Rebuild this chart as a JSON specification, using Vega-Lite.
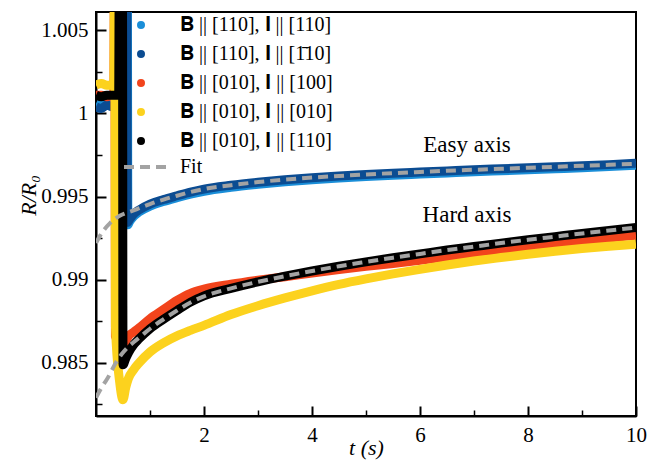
{
  "$schema": "https://vega.github.io/schema/vega-lite/v6.json",
  "width": 540,
  "height": 404,
  "autosize": {"type": "none"},
  "padding": {"left": 96, "top": 12, "right": 11, "bottom": 48},
  "background": "white",
  "config": {
    "view": {"stroke": "black", "strokeWidth": 2},
    "font": "Liberation Serif",
    "axis": {"grid": false, "domainColor": "black", "domainWidth": 2, "tickColor": "black", "labelColor": "black", "titleColor": "black", "labelFont": "Liberation Serif", "titleFont": "Liberation Serif"},
    "legend": {"labelFont": "Liberation Serif, DejaVu Serif", "labelColor": "black", "padding": 0, "offset": 0}
  },
  "datasets": {
    "series": [
      {"s":"A","t":0.0,"r":1.0006},{"s":"A","t":0.1,"r":1.0005},{"s":"A","t":0.2,"r":1.0006},{"s":"A","t":0.3,"r":1.0005},{"s":"A","t":0.4,"r":1.0006},{"s":"A","t":0.55,"r":1.0005},{"s":"A","t":0.56,"r":1.0075},{"s":"A","t":0.58,"r":1.0075},{"s":"A","t":0.59,"r":0.9933},{"s":"A","t":0.62,"r":0.99348},{"s":"A","t":0.7,"r":0.99382},{"s":"A","t":0.8,"r":0.99408},{"s":"A","t":1.0,"r":0.99442},{"s":"A","t":1.25,"r":0.9947},{"s":"A","t":1.5,"r":0.99493},{"s":"A","t":1.75,"r":0.99514},{"s":"A","t":2.0,"r":0.99532},{"s":"A","t":2.5,"r":0.99556},{"s":"A","t":3.0,"r":0.99574},{"s":"A","t":3.5,"r":0.99589},{"s":"A","t":4.0,"r":0.99601},{"s":"A","t":4.5,"r":0.99611},{"s":"A","t":5.0,"r":0.9962},{"s":"A","t":5.5,"r":0.99628},{"s":"A","t":6.0,"r":0.99635},{"s":"A","t":6.5,"r":0.99642},{"s":"A","t":7.0,"r":0.99649},{"s":"A","t":7.5,"r":0.99655},{"s":"A","t":8.0,"r":0.99661},{"s":"A","t":8.5,"r":0.99667},{"s":"A","t":9.0,"r":0.99673},{"s":"A","t":9.5,"r":0.9968},{"s":"A","t":10.0,"r":0.99688},
      {"s":"B","t":0.0,"r":1.0004},{"s":"B","t":0.1,"r":1.0003},{"s":"B","t":0.2,"r":1.0005},{"s":"B","t":0.3,"r":1.0004},{"s":"B","t":0.4,"r":1.0004},{"s":"B","t":0.54,"r":1.0004},{"s":"B","t":0.55,"r":1.0075},{"s":"B","t":0.57,"r":1.0075},{"s":"B","t":0.58,"r":0.99345},{"s":"B","t":0.62,"r":0.99362},{"s":"B","t":0.7,"r":0.99395},{"s":"B","t":0.8,"r":0.9942},{"s":"B","t":1.0,"r":0.99455},{"s":"B","t":1.25,"r":0.99482},{"s":"B","t":1.5,"r":0.99505},{"s":"B","t":1.75,"r":0.99527},{"s":"B","t":2.0,"r":0.99545},{"s":"B","t":2.5,"r":0.99568},{"s":"B","t":3.0,"r":0.99586},{"s":"B","t":3.5,"r":0.99601},{"s":"B","t":4.0,"r":0.99613},{"s":"B","t":4.5,"r":0.99623},{"s":"B","t":5.0,"r":0.99632},{"s":"B","t":5.5,"r":0.9964},{"s":"B","t":6.0,"r":0.99647},{"s":"B","t":6.5,"r":0.99654},{"s":"B","t":7.0,"r":0.99661},{"s":"B","t":7.5,"r":0.99667},{"s":"B","t":8.0,"r":0.99673},{"s":"B","t":8.5,"r":0.99679},{"s":"B","t":9.0,"r":0.99685},{"s":"B","t":9.5,"r":0.99692},{"s":"B","t":10.0,"r":0.997},
      {"s":"C","t":0.0,"r":1.0011},{"s":"C","t":0.1,"r":1.0011},{"s":"C","t":0.2,"r":1.001},{"s":"C","t":0.3,"r":1.0011},{"s":"C","t":0.33,"r":1.0011},{"s":"C","t":0.34,"r":1.0075},{"s":"C","t":0.35,"r":1.0075},{"s":"C","t":0.36,"r":0.9866},{"s":"C","t":0.43,"r":0.9862},{"s":"C","t":0.5,"r":0.9861},{"s":"C","t":0.55,"r":0.9863},{"s":"C","t":0.6,"r":0.9866},{"s":"C","t":0.7,"r":0.98685},{"s":"C","t":0.8,"r":0.9871},{"s":"C","t":1.0,"r":0.98765},{"s":"C","t":1.25,"r":0.9882},{"s":"C","t":1.5,"r":0.98875},{"s":"C","t":1.75,"r":0.98918},{"s":"C","t":2.0,"r":0.98943},{"s":"C","t":2.5,"r":0.98973},{"s":"C","t":3.0,"r":0.98997},{"s":"C","t":3.5,"r":0.99018},{"s":"C","t":4.0,"r":0.9904},{"s":"C","t":4.5,"r":0.99061},{"s":"C","t":5.0,"r":0.9908},{"s":"C","t":5.5,"r":0.99097},{"s":"C","t":6.0,"r":0.99117},{"s":"C","t":6.5,"r":0.99138},{"s":"C","t":7.0,"r":0.99158},{"s":"C","t":7.5,"r":0.99177},{"s":"C","t":8.0,"r":0.99196},{"s":"C","t":8.5,"r":0.99214},{"s":"C","t":9.0,"r":0.99232},{"s":"C","t":9.5,"r":0.9925},{"s":"C","t":10.0,"r":0.99268},
      {"s":"D","t":0.0,"r":1.0017},{"s":"D","t":0.1,"r":1.0018},{"s":"D","t":0.2,"r":1.0017},{"s":"D","t":0.3,"r":1.0017},{"s":"D","t":0.33,"r":1.0017},{"s":"D","t":0.34,"r":1.0075},{"s":"D","t":0.35,"r":1.0075},{"s":"D","t":0.36,"r":0.9872},{"s":"D","t":0.44,"r":0.9838},{"s":"D","t":0.5,"r":0.98278},{"s":"D","t":0.55,"r":0.9835},{"s":"D","t":0.6,"r":0.98405},{"s":"D","t":0.7,"r":0.9846},{"s":"D","t":0.8,"r":0.985},{"s":"D","t":1.0,"r":0.98565},{"s":"D","t":1.25,"r":0.9862},{"s":"D","t":1.5,"r":0.98662},{"s":"D","t":1.75,"r":0.98695},{"s":"D","t":2.0,"r":0.98725},{"s":"D","t":2.5,"r":0.9879},{"s":"D","t":3.0,"r":0.98843},{"s":"D","t":3.5,"r":0.9889},{"s":"D","t":4.0,"r":0.98933},{"s":"D","t":4.5,"r":0.98972},{"s":"D","t":5.0,"r":0.99005},{"s":"D","t":5.5,"r":0.99035},{"s":"D","t":6.0,"r":0.99062},{"s":"D","t":6.5,"r":0.99088},{"s":"D","t":7.0,"r":0.99112},{"s":"D","t":7.5,"r":0.99133},{"s":"D","t":8.0,"r":0.99153},{"s":"D","t":8.5,"r":0.99171},{"s":"D","t":9.0,"r":0.99187},{"s":"D","t":9.5,"r":0.99201},{"s":"D","t":10.0,"r":0.99214},
      {"s":"E","t":0.0,"r":1.0011},{"s":"E","t":0.1,"r":1.001},{"s":"E","t":0.2,"r":1.0011},{"s":"E","t":0.3,"r":1.0011},{"s":"E","t":0.42,"r":1.0011},{"s":"E","t":0.43,"r":1.0075},{"s":"E","t":0.49,"r":1.0075},{"s":"E","t":0.5,"r":0.98488},{"s":"E","t":0.55,"r":0.98525},{"s":"E","t":0.6,"r":0.9856},{"s":"E","t":0.7,"r":0.9861},{"s":"E","t":0.8,"r":0.98645},{"s":"E","t":1.0,"r":0.98705},{"s":"E","t":1.25,"r":0.98762},{"s":"E","t":1.5,"r":0.98815},{"s":"E","t":1.75,"r":0.98865},{"s":"E","t":2.0,"r":0.98903},{"s":"E","t":2.5,"r":0.98948},{"s":"E","t":3.0,"r":0.98987},{"s":"E","t":3.5,"r":0.99021},{"s":"E","t":4.0,"r":0.99052},{"s":"E","t":4.5,"r":0.99081},{"s":"E","t":5.0,"r":0.99107},{"s":"E","t":5.5,"r":0.99132},{"s":"E","t":6.0,"r":0.99155},{"s":"E","t":6.5,"r":0.99178},{"s":"E","t":7.0,"r":0.99199},{"s":"E","t":7.5,"r":0.9922},{"s":"E","t":8.0,"r":0.9924},{"s":"E","t":8.5,"r":0.99259},{"s":"E","t":9.0,"r":0.99278},{"s":"E","t":9.5,"r":0.99296},{"s":"E","t":10.0,"r":0.99314}
    ],
    "fits": [
      {"f":"easy","k":"Fit","t":0.0,"r":0.9922},{"f":"easy","k":"Fit","t":0.07,"r":0.99262},{"f":"easy","k":"Fit","t":0.15,"r":0.993},{"f":"easy","k":"Fit","t":0.26,"r":0.9934},{"f":"easy","k":"Fit","t":0.35,"r":0.99365},{"f":"easy","k":"Fit","t":0.44,"r":0.99385},{"f":"easy","k":"Fit","t":0.55,"r":0.994},{"f":"easy","k":"Fit","t":0.66,"r":0.99412},{"f":"easy","k":"Fit","t":0.8,"r":0.9943},{"f":"easy","k":"Fit","t":1.0,"r":0.99455},{"f":"easy","k":"Fit","t":1.25,"r":0.99482},{"f":"easy","k":"Fit","t":1.5,"r":0.99505},{"f":"easy","k":"Fit","t":1.75,"r":0.99527},{"f":"easy","k":"Fit","t":2.0,"r":0.99545},{"f":"easy","k":"Fit","t":2.5,"r":0.99568},{"f":"easy","k":"Fit","t":3.0,"r":0.99587},{"f":"easy","k":"Fit","t":3.5,"r":0.99602},{"f":"easy","k":"Fit","t":4.0,"r":0.99614},{"f":"easy","k":"Fit","t":4.5,"r":0.99624},{"f":"easy","k":"Fit","t":5.0,"r":0.99633},{"f":"easy","k":"Fit","t":5.5,"r":0.99641},{"f":"easy","k":"Fit","t":6.0,"r":0.99648},{"f":"easy","k":"Fit","t":6.5,"r":0.99655},{"f":"easy","k":"Fit","t":7.0,"r":0.99661},{"f":"easy","k":"Fit","t":7.5,"r":0.99667},{"f":"easy","k":"Fit","t":8.0,"r":0.99673},{"f":"easy","k":"Fit","t":8.5,"r":0.99679},{"f":"easy","k":"Fit","t":9.0,"r":0.99685},{"f":"easy","k":"Fit","t":9.5,"r":0.99691},{"f":"easy","k":"Fit","t":10.0,"r":0.99697},
      {"f":"hard","k":"Fit","t":0.0,"r":0.9829},{"f":"hard","k":"Fit","t":0.08,"r":0.98338},{"f":"hard","k":"Fit","t":0.15,"r":0.98375},{"f":"hard","k":"Fit","t":0.22,"r":0.9841},{"f":"hard","k":"Fit","t":0.3,"r":0.9846},{"f":"hard","k":"Fit","t":0.38,"r":0.98508},{"f":"hard","k":"Fit","t":0.47,"r":0.9855},{"f":"hard","k":"Fit","t":0.57,"r":0.98588},{"f":"hard","k":"Fit","t":0.7,"r":0.98625},{"f":"hard","k":"Fit","t":0.85,"r":0.98665},{"f":"hard","k":"Fit","t":1.0,"r":0.98705},{"f":"hard","k":"Fit","t":1.25,"r":0.98762},{"f":"hard","k":"Fit","t":1.5,"r":0.98815},{"f":"hard","k":"Fit","t":1.75,"r":0.98863},{"f":"hard","k":"Fit","t":2.0,"r":0.989},{"f":"hard","k":"Fit","t":2.5,"r":0.98948},{"f":"hard","k":"Fit","t":3.0,"r":0.98987},{"f":"hard","k":"Fit","t":3.5,"r":0.99021},{"f":"hard","k":"Fit","t":4.0,"r":0.99052},{"f":"hard","k":"Fit","t":4.5,"r":0.99081},{"f":"hard","k":"Fit","t":5.0,"r":0.99107},{"f":"hard","k":"Fit","t":5.5,"r":0.99132},{"f":"hard","k":"Fit","t":6.0,"r":0.99155},{"f":"hard","k":"Fit","t":6.5,"r":0.99178},{"f":"hard","k":"Fit","t":7.0,"r":0.99199},{"f":"hard","k":"Fit","t":7.5,"r":0.9922},{"f":"hard","k":"Fit","t":8.0,"r":0.9924},{"f":"hard","k":"Fit","t":8.5,"r":0.99259},{"f":"hard","k":"Fit","t":9.0,"r":0.99278},{"f":"hard","k":"Fit","t":9.5,"r":0.99296},{"f":"hard","k":"Fit","t":10.0,"r":0.99314}
    ],
    "notes": [
      {"t": 6.87, "r": 0.99808, "label": "Easy axis"},
      {"t": 6.87, "r": 0.99388, "label": "Hard axis"}
    ]
  },
  "layer": [
    {
      "data": {"name": "series"},
      "mark": {"type": "line", "strokeWidth": 9, "clip": true, "interpolate": "monotone"},
      "encoding": {
        "x": {"field": "t", "type": "quantitative", "scale": {"domain": [0, 10], "nice": false, "zero": false},
          "axis": {"orient": "bottom", "values": [2, 4, 6, 8, 10], "tickSize": -10, "tickWidth": 2, "labelFont": "Liberation Serif", "labelFontSize": 21, "labelPadding": 18, "labelFlush": false, "labelOverlap": false,
            "title": "t (s)", "titleFont": "Liberation Serif", "titleFontSize": 22, "titleFontStyle": "italic", "titleFontWeight": "normal", "titleY": 31, "titleBaseline": "middle"}},
        "y": {"field": "r", "type": "quantitative", "scale": {"domain": [0.9818, 1.0061], "nice": false, "zero": false},
          "axis": {"orient": "left", "values": [0.985, 0.99, 0.995, 1, 1.005], "format": "~g", "tickSize": -10, "tickWidth": 2, "labelFont": "Liberation Serif", "labelFontSize": 21, "labelPadding": 18, "labelFlush": false, "labelOverlap": false,
            "title": "R/R₀", "titleFont": "Liberation Serif", "titleFontSize": 22, "titleFontStyle": "italic", "titleFontWeight": "normal", "titleX": -68, "titleY": 183, "titleAngle": -90, "titleAlign": "center", "titleBaseline": "middle"}},
        "color": {"field": "s", "type": "nominal",
          "scale": {"domain": ["A", "B", "C", "D", "E"], "range": ["#1a8ed8", "#0b4c92", "#f2441c", "#fcd21e", "#000000"]},
          "legend": {"orient": "none", "legendX": 35, "legendY": 3, "title": null, "symbolType": "circle", "symbolSize": 16, "symbolStrokeWidth": 4, "labelFont": "Liberation Serif, DejaVu Serif", "labelFontSize": 20, "labelOffset": 29, "rowPadding": 9,
            "labelExpr": "datum.value == 'A' ? '𝐁 || [110], 𝐈 || [110]' : datum.value == 'B' ? '𝐁 || [110], 𝐈 || [1̄10]' : datum.value == 'C' ? '𝐁 || [010], 𝐈 || [100]' : datum.value == 'D' ? '𝐁 || [010], 𝐈 || [010]' : '𝐁 || [010], 𝐈 || [110]'"}}
      }
    },
    {
      "data": {"name": "fits"},
      "mark": {"type": "line", "strokeWidth": 4, "color": "#a3a3a3", "clip": true, "interpolate": "monotone"},
      "encoding": {
        "x": {"field": "t", "type": "quantitative", "axis": {"orient": "bottom", "values": [1, 3, 5, 7, 9], "tickSize": -6, "tickWidth": 1.5, "labels": false, "domain": false, "title": null}},
        "y": {"field": "r", "type": "quantitative", "axis": {"orient": "left", "values": [0.9825, 0.9875, 0.9925, 0.9975, 1.0025], "tickSize": -6, "tickWidth": 1.5, "labels": false, "domain": false, "title": null}},
        "detail": {"field": "f"},
        "strokeDash": {"field": "k", "type": "nominal", "scale": {"domain": ["Fit"], "range": [[10, 6]]},
          "legend": {"orient": "none", "legendX": 26, "legendY": 130, "title": null, "symbolType": "stroke", "symbolSize": 2116, "symbolStrokeWidth": 4, "symbolStrokeColor": "#a3a3a3", "labelFont": "Liberation Serif", "labelFontSize": 20, "labelOffset": 8}}
      }
    },
    {
      "data": {"name": "notes"},
      "mark": {"type": "text", "font": "Liberation Serif", "fontSize": 23, "align": "center", "baseline": "middle", "color": "black"},
      "encoding": {
        "x": {"field": "t", "type": "quantitative", "axis": null},
        "y": {"field": "r", "type": "quantitative", "axis": null},
        "text": {"field": "label"}
      }
    }
  ],
  "resolve": {"axis": {"x": "independent", "y": "independent"}}
}
